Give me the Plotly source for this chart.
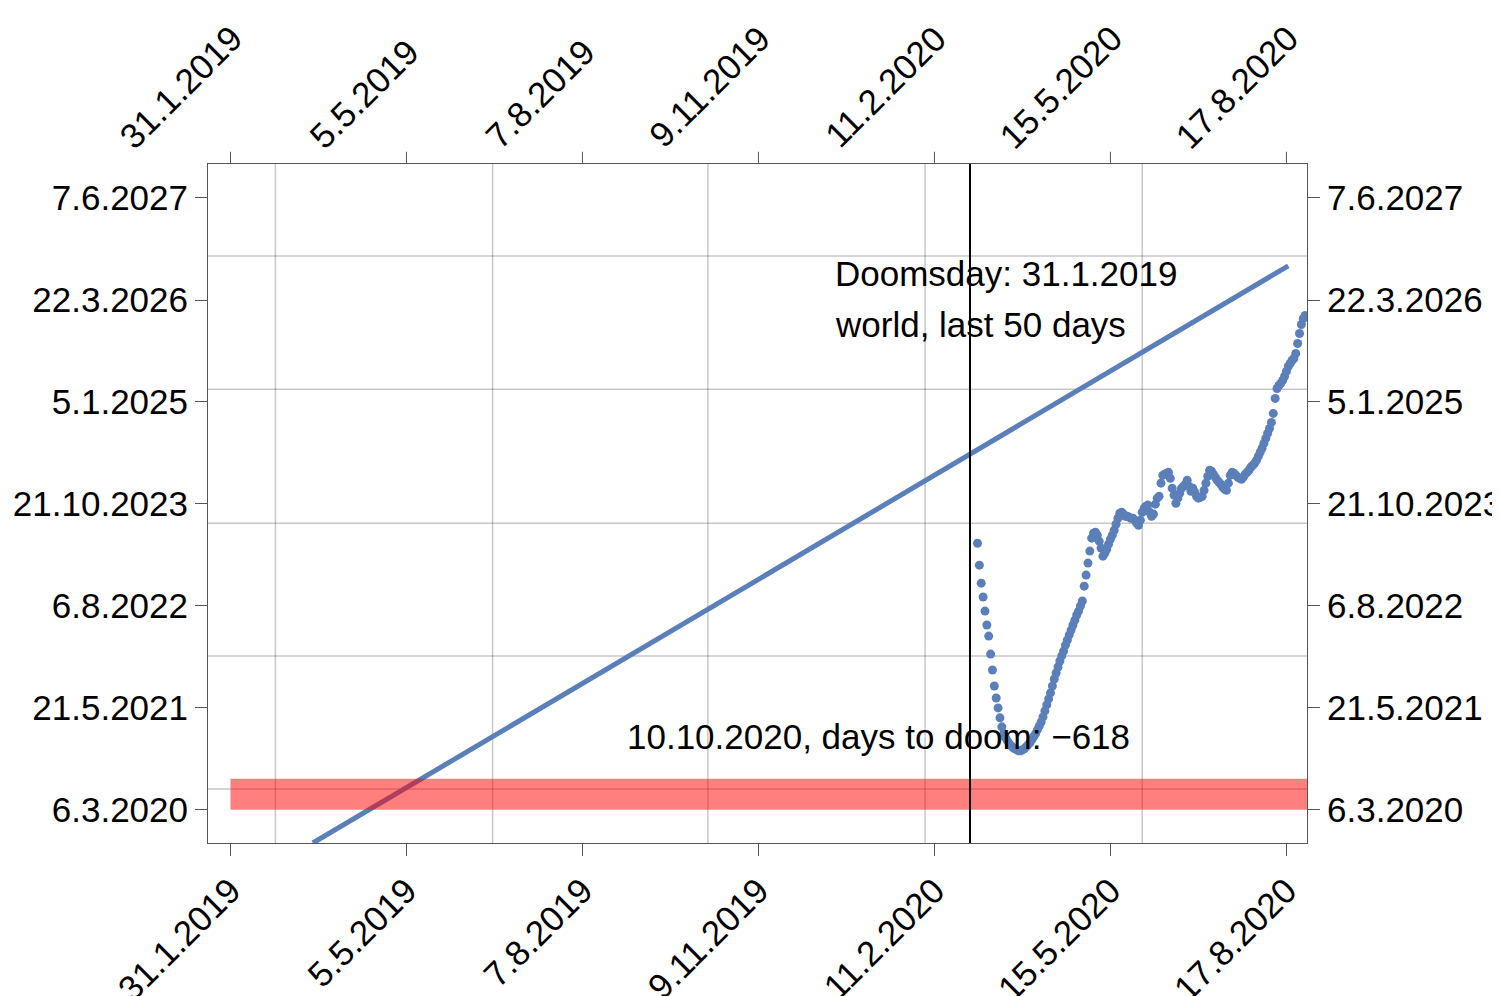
import plotly.graph_objects as go
import pandas as pd

# === DATA ===
# daily points, start 5.3.2020; values = projected doomsday as days after 6.3.2020
dots_start = "2020-03-05"
dots_days = [1154, 1059, 981, 921, 860, 800, 752, 674, 605, 536, 484, 441, 398, 359, 329, 311,
             298, 285, 277, 268, 264, 259, 255, 255, 259, 264, 272, 281, 290, 303, 316, 329,
             346, 363, 380, 402, 428, 454, 480, 506, 536, 566, 592, 618, 644, 666, 687, 713,
             735, 757, 778, 800, 821, 843, 860, 882, 904, 968, 1016, 1068, 1120, 1176, 1197, 1202,
             1189, 1163, 1133, 1098, 1111, 1128, 1150, 1172, 1189, 1210, 1236, 1262, 1284, 1288,
             1280, 1271, 1271, 1267, 1262, 1262, 1254, 1241, 1232, 1254, 1288, 1306, 1314, 1319,
             1288, 1271, 1280, 1323, 1349, 1357, 1414, 1448, 1453, 1457, 1461, 1435, 1392, 1362,
             1327, 1349, 1370, 1392, 1401, 1409, 1427, 1401, 1379, 1392, 1375, 1357, 1349, 1353,
             1357, 1383, 1414, 1444, 1470, 1466, 1453, 1440, 1427, 1418, 1409, 1396, 1388, 1383,
             1414, 1448, 1461, 1457, 1448, 1440, 1435, 1431, 1440, 1453, 1461, 1470, 1483, 1491,
             1500, 1513, 1530, 1548, 1565, 1587, 1608, 1630, 1651, 1677, 1716, 1781, 1824, 1837,
             1846, 1859, 1876, 1898, 1919, 1932, 1945, 1954, 1976, 2019, 2062, 2101, 2127, 2140]
dots_ref = "2020-03-06"

line_x = ["2019-03-16", "2020-08-18"]
line_y = ["2019-10-14", "2026-08-17"]

x_ticks = ["2019-01-31", "2019-05-05", "2019-08-07", "2019-11-09", "2020-02-11", "2020-05-15", "2020-08-17"]
y_ticks = ["2020-03-06", "2021-05-21", "2022-08-06", "2023-10-21", "2025-01-05", "2026-03-22", "2027-06-07"]
x_grid = ["2019-02-24", "2019-06-20", "2019-10-13", "2020-02-06", "2020-06-01"]
y_grid = ["2020-06-04", "2022-01-01", "2023-07-29", "2025-03-01", "2026-09-29"]

today_line = "2020-03-01"
band_x0 = "2019-01-31"
band_y = ["2020-03-06", "2020-07-18"]

title_lines = ["Doomsday: 31.1.2019", "world, last 50 days"]
status_txt = "10.10.2020, days to doom: \u2212618"

# === BUILD ===
dots_x = pd.date_range(dots_start, periods=len(dots_days), freq="D")
dots_y = pd.Timestamp(dots_ref) + pd.to_timedelta(dots_days, unit="D")

def fmt(d):
    d = pd.Timestamp(d)
    return f"{d.day}.{d.month}.{d.year}"

BLUE = "#5b7fb8"
FSIZE = 35
FONT = dict(family="Liberation Sans, Arial", size=FSIZE, color="black")

fig = go.Figure()
fig.add_trace(go.Scatter(x=line_x, y=line_y, mode="lines",
                         line=dict(color=BLUE, width=5), showlegend=False))
fig.add_trace(go.Scatter(x=dots_x, y=dots_y, mode="markers",
                         marker=dict(color=BLUE, size=9), showlegend=False))
# dummy trace to show the mirrored right axis
fig.add_trace(go.Scatter(x=[x_ticks[0]], y=[y_ticks[0]], yaxis="y2",
                         mode="markers", marker=dict(opacity=0), showlegend=False, hoverinfo="skip"))

# grid lines
for g in x_grid:
    fig.add_shape(type="line", xref="x", yref="paper", x0=g, x1=g, y0=0, y1=1,
                  line=dict(color="rgba(0,0,0,0.22)", width=1.5), layer="below")
for g in y_grid:
    fig.add_shape(type="line", xref="paper", yref="y", x0=0, x1=1, y0=g, y1=g,
                  line=dict(color="rgba(0,0,0,0.22)", width=1.5), layer="below")

fig.add_shape(type="rect", xref="x", yref="y", x0=band_x0, x1="2020-08-28",
              y0=band_y[0], y1=band_y[1], fillcolor="rgba(255,0,0,0.5)", line_width=0)
fig.add_shape(type="line", xref="x", yref="paper", x0=today_line, x1=today_line, y0=0, y1=1,
              line=dict(color="black", width=2))

# top tick marks + labels (ending at the tick, like the bottom axis)
for t in x_ticks:
    fig.add_shape(type="line", xref="x", yref="paper", x0=t, x1=t, y0=1, y1=1.018,
                  line=dict(color="#555", width=1))
    lab = fmt(t)
    L = sum(0.278 if c == "." else 0.556 for c in lab) * FSIZE
    fig.add_annotation(xref="x", yref="paper", x=t, y=1, text=lab, showarrow=False,
                       textangle=-45, font=FONT, xanchor="center", yanchor="middle",
                       xshift=-L / 2 * 0.707 + 6, yshift=L / 2 * 0.707 + 22)

fig.add_annotation(xref="paper", yref="paper", x=0.569, y=0.87, text=title_lines[0],
                   showarrow=False, xanchor="left", font=FONT)
fig.add_annotation(xref="paper", yref="paper", x=0.569, y=0.796, text=title_lines[1],
                   showarrow=False, xanchor="left", font=FONT)
fig.add_annotation(xref="paper", yref="paper", x=0.61, y=0.125, text=status_txt,
                   showarrow=False, font=FONT)

xr = ["2019-01-19", "2020-08-28"]
yr = ["2019-10-14", "2027-11-01"]
axis_common = dict(type="date", showgrid=False, zeroline=False, showline=True, mirror=True,
                   linecolor="#555", linewidth=1, ticks="outside", ticklen=12,
                   tickcolor="#555", tickfont=FONT, automargin=False)

fig.update_layout(
    width=1500, height=996,
    margin=dict(l=200, r=201, t=156, b=161),
    plot_bgcolor="white", paper_bgcolor="white",
    xaxis=dict(**axis_common, range=xr, tickvals=x_ticks,
               ticktext=[fmt(t) for t in x_ticks], tickangle=-45),
    yaxis=dict(**axis_common, range=yr, tickvals=y_ticks,
               ticktext=[fmt(t) for t in y_ticks]),
    yaxis2=dict(**axis_common, range=yr, tickvals=y_ticks, overlaying="y", side="right",
                ticktext=[fmt(t) for t in y_ticks], matches="y"),
)

fig.write_html("out.html")
